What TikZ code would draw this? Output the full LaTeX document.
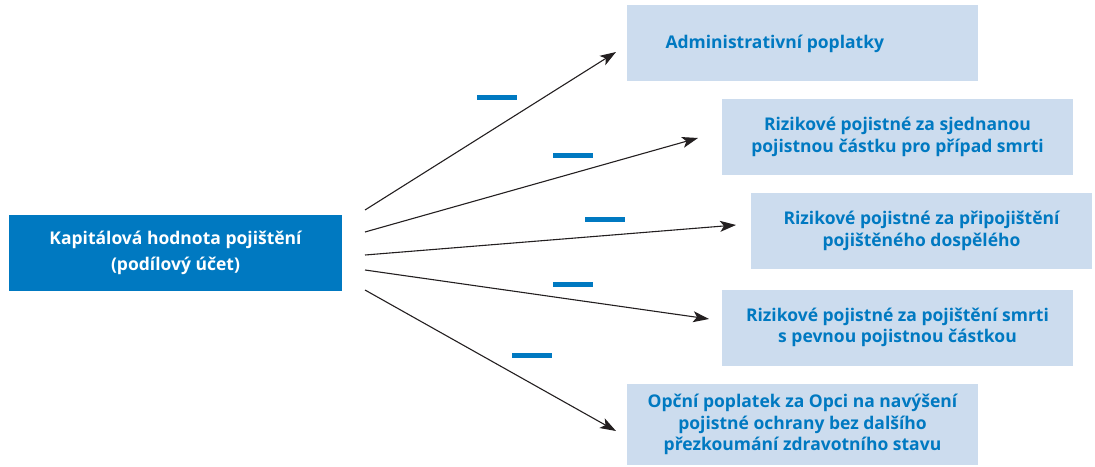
\documentclass[tikz,border=0pt]{standalone}
\usepackage{fontspec}
\setmainfont{Open Sans}
\usetikzlibrary{arrows.meta}
\definecolor{pblue}{HTML}{0079C1}
\definecolor{plight}{HTML}{CCDCEE}
\definecolor{parrow}{HTML}{231F20}
\tikzset{
  mainbox/.style={fill=pblue, text=white, font=\bfseries\fontsize{17.5}{26}\selectfont, align=center, minimum width=333pt, minimum height=76pt, inner sep=0pt},
  itembox/.style={fill=plight, text=pblue, font=\bfseries\fontsize{17.5}{21.5}\selectfont, align=center, minimum width=351pt, minimum height=76pt, inner sep=0pt},
  feearrow/.style={draw=parrow, line width=1.1pt, -{Stealth[length=16pt,width=11pt,inset=4pt]}},
  minus/.style={fill=pblue}
}
\begin{document}
\begin{tikzpicture}[x=1pt,y=-1pt]
\useasboundingbox (0,0) rectangle (1095,466);
% source
\node [mainbox] (capital) at (175.5,253) {Kapitálová hodnota pojištění\\(podílový účet)};
% fees
\node [itembox] (admin) at (802.5,42.5) {};
\node [anchor=west, text=pblue, font=\bfseries\fontsize{17.5}{21.5}\selectfont] (admintext) at (662,44) {Administrativní poplatky};
\node [itembox] (death) at (897.5,137) {Rizikové pojistné za sjednanou\\pojistnou částku pro případ smrti};
\node [itembox, minimum width=341pt] (adult) at (921.5,231) {Rizikové pojistné za připojištění\\pojištěného dospělého};
\node [itembox] (fixed) at (897.5,327.5) {Rizikové pojistné za pojištění smrti\\s pevnou pojistnou částkou};
\node [itembox, minimum height=81pt] (option) at (802.5,424.5) {Opční poplatek za Opci na navýšení\\pojistné ochrany bez dalšího\\přezkoumání zdravotního stavu};
% arrows
\coordinate (s1) at (365,210);
\coordinate (s2) at (365,232);
\coordinate (s3) at (365,255);
\coordinate (s4) at (365,270);
\coordinate (s5) at (365,290);
\coordinate (e1) at (616,52);
\coordinate (e2) at (698,138);
\coordinate (e3) at (736,225);
\coordinate (e4) at (709,319);
\coordinate (e5) at (616,431);
\draw [feearrow] (s1) -- (e1);
\draw [feearrow] (s2) -- (e2);
\draw [feearrow] (s3) -- (e3);
\draw [feearrow] (s4) -- (e4);
\draw [feearrow] (s5) -- (e5);
% minus signs
\fill [minus] (477,94.5) rectangle (517,99.5);
\fill [minus] (553,152.5) rectangle (593,157.5);
\fill [minus] (585,216.5) rectangle (625,221.5);
\fill [minus] (553,281.5) rectangle (593,286.5);
\fill [minus] (512,352.5) rectangle (552,357.5);
\end{tikzpicture}
\end{document}
